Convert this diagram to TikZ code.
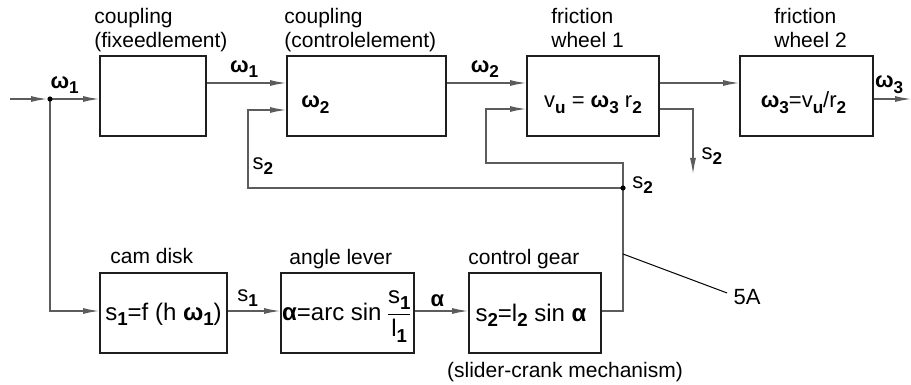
\documentclass[tikz,border=0pt]{standalone}
\usepackage{amsmath}
\usepackage{fontspec}
\setmainfont{Liberation Sans}
\usetikzlibrary{arrows.meta,positioning}
\definecolor{linegray}{HTML}{5C5C5C}
\definecolor{frame}{HTML}{1E1E1E}
\newcommand{\sub}[1]{\raisebox{-0.45ex}{\bfseries\scalebox{0.78}{#1}}}
\newcommand{\om}{\textbf{ω}}
\newcommand{\al}{\textbf{α}}
\tikzset{
  blk/.style={draw=frame,line width=1pt,minimum height=40pt,inner sep=0pt},
  conn/.style={line width=0.6pt,draw=linegray},
  flow/.style={conn,-{Latex[length=8pt,width=3pt]}},
  ttl/.style={font=\fontsize{10.5}{12}\selectfont,align=left,inner sep=0pt,text depth=0pt},
  sig/.style={font=\fontsize{11}{13}\selectfont,inner sep=0pt},
  equ/.style={font=\fontsize{11}{14}\selectfont,inner sep=0pt,anchor=base},
  equl/.style={font=\fontsize{12}{15}\selectfont,inner sep=0pt,anchor=base},
  jdot/.style={circle,fill=black,inner sep=0pt,minimum size=2.6pt},
}
\begin{document}
\begin{tikzpicture}[x=0.5pt,y=-0.5pt]
  \useasboundingbox (0,0) rectangle (911,385);
  % upper chain
  \node[blk,minimum width=53pt] (fix) at (153,96) {};
  \node[blk,minimum width=79.5pt,right=39.5pt of fix] (ctl) {};
  \node[blk,minimum width=66pt,right=39.5pt of ctl] (fw1) {};
  \node[blk,minimum width=66.5pt,right=39.5pt of fw1] (fw2) {};
  \node[ttl,anchor=south west] (tfix) at ([xshift=-2.5pt,yshift=3.5pt]fix.north west) {coupling\\(fixeedlement)};
  \node[ttl,anchor=south west] (tctl) at ([xshift=-1pt,yshift=3.5pt]ctl.north west) {coupling\\(controlelement)};
  \node[ttl,anchor=south west] (tfw1) at ([xshift=12.5pt,yshift=3.5pt]fw1.north west) {friction\\wheel 1};
  \node[ttl,anchor=south west] (tfw2) at ([xshift=17.5pt,yshift=3.5pt]fw2.north west) {friction\\wheel 2};
  \node[equ,anchor=base west] (ctleq) at ([xshift=7.5pt,yshift=-6pt]ctl.west) {\om\sub{2}};
  \node[equ] (fw1eq) at ([yshift=-6pt]fw1.center) {v\sub{u} = \om\sub{3} r\sub{2}};
  \node[equ] (fw2eq) at ([xshift=-1.5pt,yshift=-6pt]fw2.center) {\om\sub{3}=v\sub{u}/r\sub{2}};
  % lower chain
  \node[blk,minimum width=63.5pt] (cam) at (163.5,313) {};
  \node[blk,minimum width=66.5pt,right=26pt of cam] (lev) {};
  \node[blk,minimum width=66pt,right=26.5pt of lev] (gear) {};
  \node[ttl,anchor=south west] (tcam) at ([xshift=5.5pt,yshift=4pt]cam.north west) {cam disk};
  \node[ttl,anchor=base west] (tlev) at ([xshift=4.5pt,yshift=4pt]lev.north west) {angle lever};
  \node[ttl,anchor=base west] (tgear) at ([yshift=4pt]gear.north west) {control gear};
  \node[ttl,anchor=base] (tsc) at ([xshift=15pt,yshift=-11.5pt]gear.south) {(slider-crank mechanism)};
  \node[equl] (cameq) at ([yshift=-3.5pt]cam.center) {s\sub{1}=f (h \om\sub{1})};
  \node[equl] (leveq) at ([yshift=-3.5pt]lev.center) {\al=arc sin\,$\dfrac{\text{s\sub{1}}}{\text{l\sub{1}}}$};
  \node[equl] (geareq) at ([xshift=-2pt,yshift=-4pt]gear.center) {s\sub{2}=l\sub{2} sin \al};
  % junctions and free ends
  \coordinate (in) at (10,99);
  \coordinate (j1) at (50,99);
  \coordinate (d2) at (623,188);
  \coordinate (s2out) at (693,174);
  \coordinate (out) at (911,99);
  \coordinate (p5) at (623,254);
  \node[sig] (n5a) at (747,297) {5A};
  % connectors
  \draw[flow,shorten >=1.5pt] (in) -- (j1);
  \draw[flow] (j1) -- node[sig,above=2.5pt,pos=0.3] {\om\sub{1}} (j1 -| fix.west);
  \draw[flow] (j1) |- ([yshift=1pt]cam.west);
  \draw[flow] ([yshift=6.5pt]fix.east) -- node[sig,above=2.5pt,pos=0.47] {\om\sub{1}} ([yshift=6.5pt]ctl.west);
  \draw[flow] ([yshift=6.5pt]ctl.east) -- node[sig,above=2.5pt,pos=0.48] {\om\sub{2}} ([yshift=6.5pt]fw1.west);
  \draw[flow] ([yshift=6.5pt]fw1.east) -- ([yshift=6.5pt]fw2.west);
  \draw[flow] ([yshift=-6.5pt]fw1.east) -| node[sig,right=4pt,pos=0.86] {s\sub{2}} (s2out);
  \draw[flow] ([yshift=-1.5pt]fw2.east) -- node[sig,above=2.5pt,pos=0.41] {\om\sub{3}} (out);
  \draw[flow] (d2) -- ++(-375,0) |- node[sig,right=2pt,pos=0.14] {s\sub{2}} ([yshift=-7pt]ctl.west);
  \draw[flow] (d2) |- ++(-137,-25) |- ([yshift=-6.5pt]fw1.west);
  \draw[conn] ([yshift=1pt]gear.east) -| (d2);
  \draw[flow] ([yshift=1pt]cam.east) -- node[sig,above=2pt,pos=0.38] {s\sub{1}} ([yshift=1pt]lev.west);
  \draw[flow] ([yshift=1pt]lev.east) -- node[sig,above=2pt,pos=0.42] {\al} ([yshift=1pt]gear.west);
  \node[jdot] at (j1) {};
  \node[jdot] at (d2) {};
  \node[sig,anchor=west] (s2dot) at ([xshift=4.5pt,yshift=1.5pt]d2) {s\sub{2}};
  \draw[line width=0.5pt] (p5) -- ([xshift=-3pt,yshift=2pt]n5a.west);
\end{tikzpicture}
\end{document}
